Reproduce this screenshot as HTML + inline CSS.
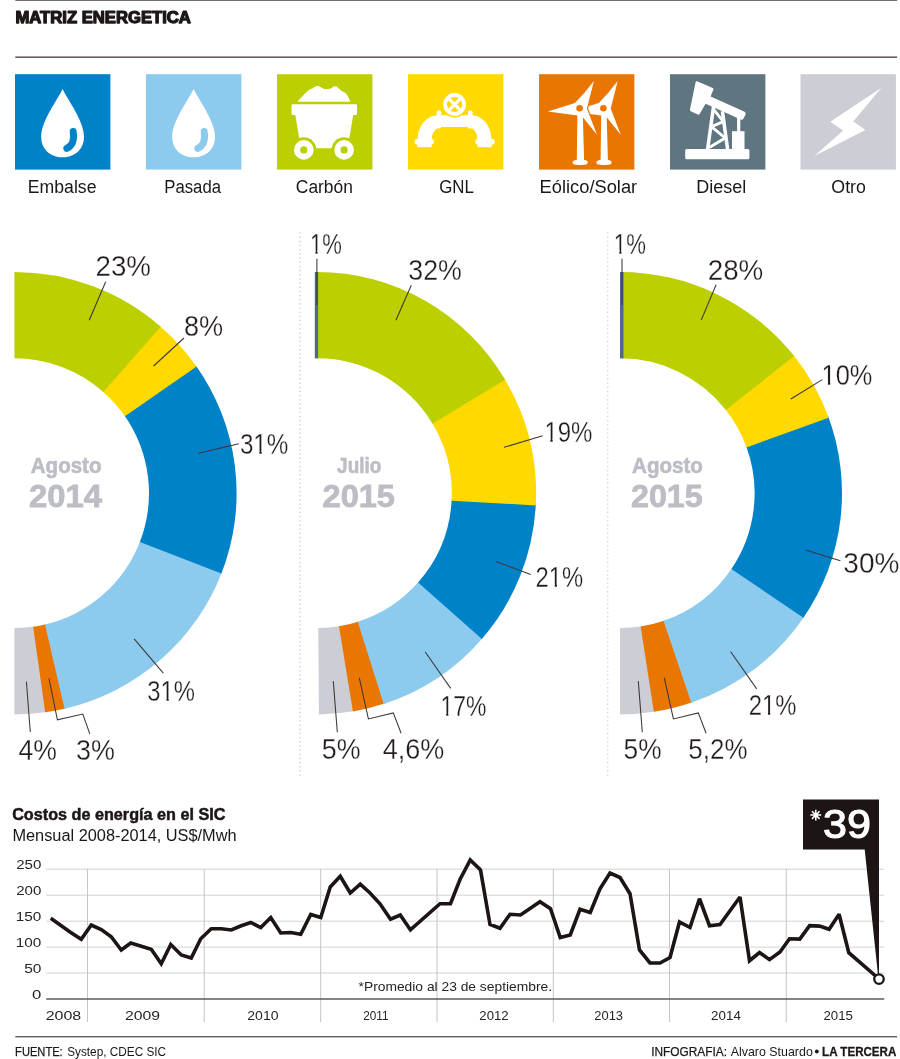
<!DOCTYPE html>
<html><head><meta charset="utf-8"><title>Matriz energetica</title>
<style>
html,body{margin:0;padding:0;background:#fff;}
body{width:900px;height:1059px;overflow:hidden;font-family:"Liberation Sans",sans-serif;}
svg{display:block;will-change:transform;}
text{font-family:"Liberation Sans",sans-serif;}
.ld{stroke:#3d3636;stroke-width:1.05;fill:none;}
.thin{stroke:#fff;stroke-width:0.3;}
</style></head><body>
<svg width="900" height="1059" viewBox="0 0 900 1059">
<rect width="900" height="1059" fill="#fff"/>

<rect x="15.3" y="0" width="881.8" height="0.9" fill="#655e5e"/>
<rect x="15.3" y="56.4" width="881.8" height="1.6" fill="#655e5e"/>
<text x="15.48" y="23.10" font-size="16.4" font-weight="bold" fill="#1d1616" textLength="175.37" lengthAdjust="spacingAndGlyphs" stroke="#1d1616" stroke-width="1.25" stroke-linejoin="round">MATRIZ ENERGETICA</text>
<rect x="15" y="74.2" width="95.4" height="95.4" fill="#0082c9"/>
<rect x="146" y="74.2" width="95.4" height="95.4" fill="#8ccbee"/>
<rect x="277" y="74.2" width="95.4" height="95.4" fill="#bccf00"/>
<rect x="408" y="74.2" width="95.4" height="95.4" fill="#ffd900"/>
<rect x="539" y="74.2" width="95.4" height="95.4" fill="#ea7602"/>
<rect x="670" y="74.2" width="95.4" height="95.4" fill="#5f7681"/>
<rect x="800.5" y="74.2" width="95.4" height="95.4" fill="#cdced5"/>
<g transform="translate(15,74.2)"><path d="M47.6,14.8 C53,26 69,47 69,62.5 C69,75 60,83 47.6,83 C35.2,83 26.2,75 26.2,62.5 C26.2,47 42.2,26 47.6,14.8 Z" fill="#fff"/><path d="M58.2,57.2 C59.5,66 57.5,71.5 51.8,74.2" fill="none" stroke="#0082c9" stroke-width="6.9" stroke-linecap="round"/></g>
<g transform="translate(146,74.2)"><path d="M47.6,14.8 C53,26 69,47 69,62.5 C69,75 60,83 47.6,83 C35.2,83 26.2,75 26.2,62.5 C26.2,47 42.2,26 47.6,14.8 Z" fill="#fff"/><path d="M58.2,57.2 C59.5,66 57.5,71.5 51.8,74.2" fill="none" stroke="#8ccbee" stroke-width="6.9" stroke-linecap="round"/></g>
<g transform="translate(277,74.2)" fill="#fff">
<path d="M21.2,27 L30.5,17.4 Q32.5,15.4 35.3,14.8 Q38.5,11.6 41.8,12.4 Q45,14.6 47.6,15.4 Q50.5,15.6 53.7,14.8 Q57,11.8 59.4,12.7 Q62.5,15.6 64.7,17.2 Q68,18.4 69.6,20.6 L72.8,27 Z" stroke="#fff" stroke-width="1" stroke-linejoin="round"/>
<rect x="14.6" y="30.1" width="65.4" height="10.6" rx="1.2"/>
<path d="M18.2,40 L76.3,40 L70.6,74 L23.9,74 Z"/>
<circle cx="26.8" cy="75.7" r="12.6" fill="#bccf00"/>
<circle cx="67.1" cy="75.7" r="12.6" fill="#bccf00"/>
<circle cx="26.8" cy="75.7" r="9.8"/>
<circle cx="67.1" cy="75.7" r="9.8"/>
<circle cx="26.8" cy="75.7" r="3.6" fill="#bccf00"/>
<circle cx="67.1" cy="75.7" r="3.6" fill="#bccf00"/>
</g>
<g transform="translate(408,74.2)" fill="#fff">
<path d="M30.5,41 C18,41 9.7,52 9.7,66 L23.7,66 C23.7,58 28,52.7 34,52.7 L59.2,52.7 C65.2,52.7 69.5,58 69.5,66 L83.5,66 C83.5,52 75.2,41 62.7,41 Z"/>
<rect x="28.6" y="36.4" width="4.6" height="18" rx="1.6"/>
<rect x="60" y="36.4" width="4.6" height="18" rx="1.6"/>
<rect x="6.6" y="64.8" width="19.2" height="5.6" rx="2"/>
<rect x="9.4" y="69.5" width="14.3" height="3.5"/>
<rect x="67.4" y="64.8" width="19.2" height="5.6" rx="2"/>
<rect x="69.5" y="69.5" width="14.3" height="3.5"/>
<circle cx="46.6" cy="30.3" r="13" fill="#ffd900"/>
<circle cx="46.6" cy="30.3" r="9.5" fill="none" stroke="#fff" stroke-width="3.8"/>
<path d="M40.2,23.9 L53,36.7 M53,23.9 L40.2,36.7" stroke="#fff" stroke-width="3.1" fill="none"/>
</g>
<g transform="translate(539,74.2)"><g transform="translate(23.8,0)"><path d="M54.9,6.8 L47.9,34.3 L58,60.6 L43.9,43 L45.1,85.7 C48,85.9 48.8,87 48.8,88.3 C48.8,90 47,90.8 41.2,90.8 C35.4,90.8 33.5,90 33.5,88.3 C33.5,87 34.4,85.9 37.8,85.7 L38.4,41.2 L8.8,37.4 L36,28.8 Q45.4,19.4 54.9,6.8 Z" fill="#fff"/><circle cx="40.6" cy="34.1" r="3.3" fill="#ea7602"/></g><path transform="translate(0,0)" d="M54.9,6.8 L47.9,34.3 L58,60.6 L43.9,43 L45.1,85.7 C48,85.9 48.8,87 48.8,88.3 C48.8,90 47,90.8 41.2,90.8 C35.4,90.8 33.5,90 33.5,88.3 C33.5,87 34.4,85.9 37.8,85.7 L38.4,41.2 L8.8,37.4 L36,28.8 Q45.4,19.4 54.9,6.8 Z" fill="#ea7602" stroke="#ea7602" stroke-width="2.4" stroke-linejoin="round"/><g transform="translate(0,0)"><path d="M54.9,6.8 L47.9,34.3 L58,60.6 L43.9,43 L45.1,85.7 C48,85.9 48.8,87 48.8,88.3 C48.8,90 47,90.8 41.2,90.8 C35.4,90.8 33.5,90 33.5,88.3 C33.5,87 34.4,85.9 37.8,85.7 L38.4,41.2 L8.8,37.4 L36,28.8 Q45.4,19.4 54.9,6.8 Z" fill="#fff"/><circle cx="40.6" cy="34.1" r="3.3" fill="#ea7602"/></g></g>
<g transform="translate(670,74.2)" fill="#fff" stroke="none">
<rect x="15.2" y="74.7" width="64.2" height="10.4" rx="1.5"/>
<path d="M27.6,7.2 L42.8,13.8 Q43.8,14.4 43.4,15.4 L40.6,22.3 L74.6,37.6 Q76.2,38.6 75.6,40.2 L73.4,44.6 Q72.4,46 70.8,45.4 L35.6,29.6 L29.6,39.8 Q28.8,40.8 27.6,40.3 L20.8,37 Q19.6,36.2 20,35 L25.6,8 Q26.2,6.6 27.6,7.2 Z"/>
<rect x="67.1" y="43" width="3.2" height="15"/>
<rect x="62" y="57" width="12.5" height="18"/>
<g stroke="#fff" stroke-width="3.5" fill="none" stroke-linejoin="miter">
<path d="M43.6,32 L37.6,75"/>
<path d="M52.4,37 L57.6,75"/>
<path d="M43.4,35 L53.4,47.4 L41.4,52.4 L55.2,63.8 L39.2,73.4" stroke-width="2.9"/>
</g>
</g>
<g transform="translate(800.5,74.2)"><path d="M80.9,13.6 L52.8,47.4 L64.9,55.7 L13.9,81.8 L42.7,56.3 L29.8,47.5 Z" fill="#fff"/></g>
<text x="27.85" y="192.60" font-size="17.6" fill="#1d1616" textLength="68.62" lengthAdjust="spacingAndGlyphs">Embalse</text>
<text x="164.32" y="192.60" font-size="17.6" fill="#1d1616" textLength="56.71" lengthAdjust="spacingAndGlyphs">Pasada</text>
<text x="295.83" y="192.60" font-size="17.6" fill="#1d1616" textLength="57.04" lengthAdjust="spacingAndGlyphs">Carbón</text>
<text x="439.16" y="192.60" font-size="17.6" fill="#1d1616" textLength="34.71" lengthAdjust="spacingAndGlyphs">GNL</text>
<text x="539.59" y="192.60" font-size="17.6" fill="#1d1616" textLength="97.60" lengthAdjust="spacingAndGlyphs">Eólico/Solar</text>
<text x="696.32" y="192.60" font-size="17.6" fill="#1d1616" textLength="49.87" lengthAdjust="spacingAndGlyphs">Diesel</text>
<text x="831.36" y="192.60" font-size="17.6" fill="#1d1616" textLength="34.49" lengthAdjust="spacingAndGlyphs">Otro</text>
<line x1="300" y1="233" x2="300" y2="776" stroke="#d4d4d8" stroke-width="1.7" stroke-dasharray="0.01,4.16" stroke-linecap="round"/>
<line x1="607.7" y1="233" x2="607.7" y2="776" stroke="#dcdce0" stroke-width="1.7" stroke-dasharray="0.01,4.16" stroke-linecap="round"/>
<path d="M47.10,711.99 A222.2,221.2 0 0 1 14.40,714.40 L14.40,628.05 A134.6,134.85 0 0 0 34.33,626.56 Z" fill="#cdced5"/>
<path d="M66.43,708.25 A222.2,221.2 0 0 1 45.19,712.27 L33.17,626.73 A134.6,134.85 0 0 0 46.11,624.26 Z" fill="#ea7602"/>
<path d="M222.14,571.70 A222.2,221.2 0 0 1 64.55,708.69 L44.96,624.53 A134.6,134.85 0 0 0 140.34,540.79 Z" fill="#8ccbee"/>
<path d="M195.47,364.99 A222.2,221.2 0 0 1 221.44,573.51 L139.92,541.89 A134.6,134.85 0 0 0 124.32,415.37 Z" fill="#0082c9"/>
<path d="M159.21,325.43 A222.2,221.2 0 0 1 196.59,366.57 L124.99,416.34 A134.6,134.85 0 0 0 102.44,391.20 Z" fill="#ffd900"/>
<path d="M14.40,272.00 A222.2,221.2 0 0 1 160.68,326.69 L103.33,391.97 A134.6,134.85 0 0 0 14.40,358.35 Z" fill="#bccf00"/>
<path d="M354.84,711.11 A218.9,221.2 0 0 1 318.94,714.39 L318.26,628.05 A134.6,134.85 0 0 0 340.15,626.08 Z" fill="#cdced5"/>
<path d="M385.49,703.36 A218.9,221.2 0 0 1 352.94,711.43 L338.99,626.27 A134.6,134.85 0 0 0 358.86,621.43 Z" fill="#ea7602"/>
<path d="M483.15,637.45 A218.9,221.2 0 0 1 383.65,703.96 L357.74,621.79 A134.6,134.85 0 0 0 418.86,581.58 Z" fill="#8ccbee"/>
<path d="M535.86,503.51 A218.9,221.2 0 0 1 481.90,638.91 L418.09,582.46 A134.6,134.85 0 0 0 451.65,499.54 Z" fill="#0082c9"/>
<path d="M504.17,378.17 A218.9,221.2 0 0 1 535.77,505.42 L451.59,500.71 A134.6,134.85 0 0 0 431.90,422.64 Z" fill="#ffd900"/>
<path d="M317.20,272.00 A218.9,221.2 0 0 1 505.16,379.82 L432.51,423.64 A134.6,134.85 0 0 0 317.20,358.35 Z" fill="#bccf00"/>
<rect x="314.8" y="272" width="3.3" height="86.4" fill="#4d6b88"/>
<path d="M655.75,711.51 A222,221.2 0 0 1 620.00,714.40 L620.00,628.05 A134.6,134.85 0 0 0 641.79,626.27 Z" fill="#cdced5"/>
<path d="M693.14,702.05 A222,221.2 0 0 1 653.84,711.81 L640.63,626.46 A134.6,134.85 0 0 0 664.56,620.45 Z" fill="#ea7602"/>
<path d="M804.49,616.24 A222,221.2 0 0 1 691.31,702.68 L663.45,620.83 A134.6,134.85 0 0 0 732.04,567.92 Z" fill="#8ccbee"/>
<path d="M827.99,415.85 A222,221.2 0 0 1 803.40,617.84 L731.39,568.90 A134.6,134.85 0 0 0 746.19,446.27 Z" fill="#0082c9"/>
<path d="M793.01,354.59 A222,221.2 0 0 1 828.66,417.67 L746.59,447.38 A134.6,134.85 0 0 0 725.12,408.98 Z" fill="#ffd900"/>
<path d="M620.00,272.00 A222,221.2 0 0 1 794.22,356.10 L725.85,409.90 A134.6,134.85 0 0 0 620.00,358.35 Z" fill="#bccf00"/>
<rect x="620" y="272" width="3.5" height="86.4" fill="#4d6b88"/>
<text x="95.51" y="276.10" font-size="30" fill="#231b1b" textLength="55.50" lengthAdjust="spacingAndGlyphs" class="thin">23%</text>
<path class="ld" d="M105.7,281.7 L89.2,320.2"/>
<text x="184.05" y="336.30" font-size="30" fill="#231b1b" textLength="39.18" lengthAdjust="spacingAndGlyphs" class="thin">8%</text>
<path class="ld" d="M184.0,338.0 L153.6,366.0"/>
<text x="239.89" y="454.20" font-size="30" fill="#231b1b" textLength="48.49" lengthAdjust="spacingAndGlyphs" class="thin">31%</text>
<rect x="254.09" y="451.05" width="5.29" height="4.15" fill="#fff"/>
<rect x="261.70" y="451.05" width="4.36" height="4.15" fill="#fff"/>
<path class="ld" d="M238.8,443.7 L198.3,453.3"/>
<text x="147.31" y="700.90" font-size="30" fill="#231b1b" textLength="47.66" lengthAdjust="spacingAndGlyphs" class="thin">31%</text>
<rect x="161.27" y="697.75" width="5.20" height="4.15" fill="#fff"/>
<rect x="168.75" y="697.75" width="4.29" height="4.15" fill="#fff"/>
<path class="ld" d="M134.2,638.9 L163.3,673.2"/>
<text x="18.50" y="759.50" font-size="30" fill="#231b1b" textLength="38.51" lengthAdjust="spacingAndGlyphs" class="thin">4%</text>
<path class="ld" d="M26.4,681.8 L30.3,732.0"/>
<text x="75.99" y="759.50" font-size="30" fill="#231b1b" textLength="38.93" lengthAdjust="spacingAndGlyphs" class="thin">3%</text>
<path class="ld" d="M49.0,678.5 L57.4,719.8 L82.8,714.0 L89.8,733.8"/>
<text x="309.95" y="253.50" font-size="30" fill="#231b1b" textLength="31.89" lengthAdjust="spacingAndGlyphs" class="thin">1%</text>
<rect x="310.61" y="250.35" width="4.81" height="4.15" fill="#fff"/>
<rect x="317.55" y="250.35" width="3.97" height="4.15" fill="#fff"/>
<path class="ld" d="M316.9,258.7 L316.9,305.0"/>
<text x="408.30" y="279.90" font-size="30" fill="#231b1b" textLength="53.58" lengthAdjust="spacingAndGlyphs" class="thin">32%</text>
<path class="ld" d="M411.3,285.3 L395.9,320.3"/>
<text x="544.40" y="441.90" font-size="30" fill="#231b1b" textLength="48.08" lengthAdjust="spacingAndGlyphs" class="thin">19%</text>
<rect x="545.12" y="438.75" width="5.24" height="4.15" fill="#fff"/>
<rect x="552.67" y="438.75" width="4.32" height="4.15" fill="#fff"/>
<path class="ld" d="M542.7,435.7 L504.0,447.3"/>
<text x="535.51" y="587.20" font-size="30" fill="#231b1b" textLength="47.66" lengthAdjust="spacingAndGlyphs" class="thin">21%</text>
<rect x="549.47" y="584.05" width="5.20" height="4.15" fill="#fff"/>
<rect x="556.95" y="584.05" width="4.29" height="4.15" fill="#fff"/>
<path class="ld" d="M496.0,561.6 L530.7,574.4"/>
<text x="440.48" y="715.60" font-size="30" fill="#231b1b" textLength="45.96" lengthAdjust="spacingAndGlyphs" class="thin">17%</text>
<rect x="441.17" y="712.45" width="5.01" height="4.15" fill="#fff"/>
<rect x="448.39" y="712.45" width="4.13" height="4.15" fill="#fff"/>
<path class="ld" d="M425.1,651.8 L450.7,688.4"/>
<text x="321.83" y="759.40" font-size="30" fill="#231b1b" textLength="38.79" lengthAdjust="spacingAndGlyphs" class="thin">5%</text>
<path class="ld" d="M333.3,681.1 L337.3,732.2"/>
<text x="382.69" y="759.40" font-size="30" fill="#231b1b" textLength="61.60" lengthAdjust="spacingAndGlyphs" class="thin">4,6%</text>
<path class="ld" d="M359.3,677.8 L368.4,718.9 L393.3,712.9 L401.1,733.3"/>
<text x="613.84" y="253.50" font-size="30" fill="#231b1b" textLength="32.00" lengthAdjust="spacingAndGlyphs" class="thin">1%</text>
<rect x="614.50" y="250.35" width="4.83" height="4.15" fill="#fff"/>
<rect x="621.47" y="250.35" width="3.98" height="4.15" fill="#fff"/>
<path class="ld" d="M622.0,258.7 L622.0,305.0"/>
<text x="707.71" y="280.00" font-size="30" fill="#231b1b" textLength="55.60" lengthAdjust="spacingAndGlyphs" class="thin">28%</text>
<path class="ld" d="M716.1,284.7 L701.2,320.1"/>
<text x="821.60" y="384.60" font-size="30" fill="#231b1b" textLength="50.83" lengthAdjust="spacingAndGlyphs" class="thin">10%</text>
<rect x="822.36" y="381.45" width="5.55" height="4.15" fill="#fff"/>
<rect x="830.33" y="381.45" width="4.57" height="4.15" fill="#fff"/>
<path class="ld" d="M822.3,379.6 L790.8,399.0"/>
<text x="843.35" y="573.00" font-size="30" fill="#231b1b" textLength="56.07" lengthAdjust="spacingAndGlyphs" class="thin">30%</text>
<path class="ld" d="M805.6,550.0 L840.4,560.7"/>
<text x="748.81" y="715.20" font-size="30" fill="#231b1b" textLength="47.66" lengthAdjust="spacingAndGlyphs" class="thin">21%</text>
<rect x="762.77" y="712.05" width="5.20" height="4.15" fill="#fff"/>
<rect x="770.25" y="712.05" width="4.29" height="4.15" fill="#fff"/>
<path class="ld" d="M730.7,651.8 L756.7,688.9"/>
<text x="623.55" y="759.40" font-size="30" fill="#231b1b" textLength="38.05" lengthAdjust="spacingAndGlyphs" class="thin">5%</text>
<path class="ld" d="M638.3,681.1 L642.3,732.2"/>
<text x="688.36" y="759.40" font-size="30" fill="#231b1b" textLength="59.20" lengthAdjust="spacingAndGlyphs" class="thin">5,2%</text>
<path class="ld" d="M664.3,677.8 L673.4,718.9 L698.3,712.9 L706.1,733.3"/>
<text x="30.79" y="472.80" font-size="21.3" font-weight="bold" fill="#bcbdc5" textLength="70.71" lengthAdjust="spacingAndGlyphs" stroke="#bcbdc5" stroke-width="0.6">Agosto</text>
<text x="29.05" y="507.40" font-size="32" font-weight="bold" fill="#bcbdc5" textLength="72.98" lengthAdjust="spacingAndGlyphs" stroke="#bcbdc5" stroke-width="0.8">2014</text>
<text x="337.12" y="472.80" font-size="21.3" font-weight="bold" fill="#bcbdc5" textLength="44.22" lengthAdjust="spacingAndGlyphs" stroke="#bcbdc5" stroke-width="0.6">Julio</text>
<text x="322.56" y="507.40" font-size="32" font-weight="bold" fill="#bcbdc5" textLength="72.41" lengthAdjust="spacingAndGlyphs" stroke="#bcbdc5" stroke-width="0.8">2015</text>
<text x="632.09" y="472.80" font-size="21.3" font-weight="bold" fill="#bcbdc5" textLength="70.71" lengthAdjust="spacingAndGlyphs" stroke="#bcbdc5" stroke-width="0.6">Agosto</text>
<text x="630.97" y="507.40" font-size="32" font-weight="bold" fill="#bcbdc5" textLength="71.79" lengthAdjust="spacingAndGlyphs" stroke="#bcbdc5" stroke-width="0.8">2015</text>
<text x="12.15" y="819.70" font-size="16.8" font-weight="bold" fill="#1d1616" textLength="213.31" lengthAdjust="spacingAndGlyphs" stroke="#1d1616" stroke-width="0.5">Costos de energía en el SIC</text>
<text x="12.45" y="840.60" font-size="16" fill="#1d1616" textLength="224.11" lengthAdjust="spacingAndGlyphs">Mensual 2008-2014, US$/Mwh</text>
<line x1="46.2" y1="869.2" x2="884.2" y2="869.2" stroke="#d3d3d8" stroke-width="1"/>
<line x1="46.2" y1="895.2" x2="884.2" y2="895.2" stroke="#d3d3d8" stroke-width="1"/>
<line x1="46.2" y1="921.2" x2="884.2" y2="921.2" stroke="#d3d3d8" stroke-width="1"/>
<line x1="46.2" y1="947.1" x2="884.2" y2="947.1" stroke="#d3d3d8" stroke-width="1"/>
<line x1="46.2" y1="973" x2="884.2" y2="973" stroke="#d3d3d8" stroke-width="1"/>
<line x1="87.5" y1="869" x2="87.5" y2="1022" stroke="#c4c4c9" stroke-width="1"/>
<line x1="204.2" y1="869" x2="204.2" y2="1022" stroke="#c4c4c9" stroke-width="1"/>
<line x1="320.7" y1="869" x2="320.7" y2="1022" stroke="#c4c4c9" stroke-width="1"/>
<line x1="437" y1="869" x2="437" y2="1022" stroke="#c4c4c9" stroke-width="1"/>
<line x1="553.3" y1="869" x2="553.3" y2="1022" stroke="#c4c4c9" stroke-width="1"/>
<line x1="669.5" y1="869" x2="669.5" y2="1022" stroke="#c4c4c9" stroke-width="1"/>
<line x1="786.3" y1="869" x2="786.3" y2="1022" stroke="#c4c4c9" stroke-width="1"/>
<line x1="46.2" y1="999" x2="884.2" y2="999" stroke="#615b5b" stroke-width="1.3"/>
<text x="16.25" y="869.30" font-size="12.8" fill="#2a2323" textLength="25.13" lengthAdjust="spacingAndGlyphs">250</text>
<text x="16.25" y="895.30" font-size="12.8" fill="#2a2323" textLength="25.13" lengthAdjust="spacingAndGlyphs">200</text>
<text x="15.85" y="921.30" font-size="12.8" fill="#2a2323" textLength="25.54" lengthAdjust="spacingAndGlyphs">150</text>
<text x="15.85" y="947.20" font-size="12.8" fill="#2a2323" textLength="25.54" lengthAdjust="spacingAndGlyphs">100</text>
<text x="24.18" y="973.10" font-size="12.8" fill="#2a2323" textLength="17.24" lengthAdjust="spacingAndGlyphs">50</text>
<text x="32.13" y="999.10" font-size="12.8" fill="#2a2323" textLength="9.32" lengthAdjust="spacingAndGlyphs">0</text>
<text x="45.70" y="1020.40" font-size="13.3" fill="#2a2323" textLength="35.51" lengthAdjust="spacingAndGlyphs">2008</text>
<text x="125.01" y="1020.40" font-size="13.3" fill="#2a2323" textLength="35.03" lengthAdjust="spacingAndGlyphs">2009</text>
<text x="247.30" y="1020.40" font-size="13.3" fill="#2a2323" textLength="31.26" lengthAdjust="spacingAndGlyphs">2010</text>
<text x="363.21" y="1020.40" font-size="13.3" fill="#2a2323" textLength="25.36" lengthAdjust="spacingAndGlyphs">2011</text>
<text x="479.34" y="1020.40" font-size="13.3" fill="#2a2323" textLength="29.35" lengthAdjust="spacingAndGlyphs">2012</text>
<text x="594.35" y="1020.40" font-size="13.3" fill="#2a2323" textLength="28.72" lengthAdjust="spacingAndGlyphs">2013</text>
<text x="711.13" y="1020.40" font-size="13.3" fill="#2a2323" textLength="29.77" lengthAdjust="spacingAndGlyphs">2014</text>
<text x="823.44" y="1020.40" font-size="13.3" fill="#2a2323" textLength="29.52" lengthAdjust="spacingAndGlyphs">2015</text>
<text x="358.56" y="990.50" font-size="13.5" fill="#2a2323" textLength="193.50" lengthAdjust="spacingAndGlyphs">*Promedio al 23 de septiembre.</text>
<path d="M50.75,918.25 L70.75,932.50 L81.25,939.25 L91.25,925.00 L101.25,929.50 L111.25,936.75 L121.25,950.00 L130.75,943.00 L141.25,946.25 L151.25,949.25 L161.25,963.75 L170.75,944.50 L181.25,955.00 L191.25,958.00 L200.75,938.75 L211.25,928.75 L221.25,928.75 L231.25,930.00 L241.25,925.75 L250.75,922.50 L260.75,927.50 L270.75,917.50 L280.75,933.00 L290.75,932.50 L300.75,934.25 L310.75,914.50 L320.75,917.50 L330.25,887.00 L340.25,876.25 L350.25,893.00 L360.25,884.25 L370.00,893.00 L380.00,903.75 L390.50,919.25 L400.25,915.00 L410.40,929.80 L440.00,903.75 L450.50,903.75 L460.00,879.50 L470.25,860.00 L480.50,870.00 L490.00,924.50 L500.00,928.25 L510.00,914.25 L520.50,915.00 L540.00,901.75 L550.50,908.75 L560.25,937.50 L570.25,935.00 L580.00,909.25 L590.25,912.50 L600.00,888.75 L610.00,873.00 L620.00,877.50 L630.00,893.75 L639.50,950.00 L650.00,963.00 L660.00,963.00 L670.00,957.50 L679.50,922.00 L690.00,927.50 L699.50,898.75 L709.50,925.75 L720.00,924.50 L740.00,897.00 L749.50,960.75 L759.50,952.50 L769.50,959.60 L780.00,952.00 L789.50,938.80 L799.80,939.10 L809.60,925.60 L819.60,926.10 L829.10,929.30 L839.10,914.20 L848.80,952.70 L878.50,978.50" fill="none" stroke="#fff" stroke-opacity="0.75" stroke-width="5.4" stroke-linejoin="round"/>
<path d="M50.75,918.25 L70.75,932.50 L81.25,939.25 L91.25,925.00 L101.25,929.50 L111.25,936.75 L121.25,950.00 L130.75,943.00 L141.25,946.25 L151.25,949.25 L161.25,963.75 L170.75,944.50 L181.25,955.00 L191.25,958.00 L200.75,938.75 L211.25,928.75 L221.25,928.75 L231.25,930.00 L241.25,925.75 L250.75,922.50 L260.75,927.50 L270.75,917.50 L280.75,933.00 L290.75,932.50 L300.75,934.25 L310.75,914.50 L320.75,917.50 L330.25,887.00 L340.25,876.25 L350.25,893.00 L360.25,884.25 L370.00,893.00 L380.00,903.75 L390.50,919.25 L400.25,915.00 L410.40,929.80 L440.00,903.75 L450.50,903.75 L460.00,879.50 L470.25,860.00 L480.50,870.00 L490.00,924.50 L500.00,928.25 L510.00,914.25 L520.50,915.00 L540.00,901.75 L550.50,908.75 L560.25,937.50 L570.25,935.00 L580.00,909.25 L590.25,912.50 L600.00,888.75 L610.00,873.00 L620.00,877.50 L630.00,893.75 L639.50,950.00 L650.00,963.00 L660.00,963.00 L670.00,957.50 L679.50,922.00 L690.00,927.50 L699.50,898.75 L709.50,925.75 L720.00,924.50 L740.00,897.00 L749.50,960.75 L759.50,952.50 L769.50,959.60 L780.00,952.00 L789.50,938.80 L799.80,939.10 L809.60,925.60 L819.60,926.10 L829.10,929.30 L839.10,914.20 L848.80,952.70 L878.50,978.50" fill="none" stroke="#1d1414" stroke-width="3.6" stroke-linejoin="miter" stroke-miterlimit="2.1"/>
<path d="M803,799.5 L879,799.5 L879,975 L878,975 L864.7,849.6 L803,849.6 Z" fill="#1d1414"/>
<circle cx="879" cy="979.1" r="4.75" fill="#fff" stroke="#1d1414" stroke-width="2.3"/>
<text x="823.08" y="838.30" font-size="40.3" fill="#fff" textLength="47.96" lengthAdjust="spacingAndGlyphs" stroke="#fff" stroke-width="1.1">39</text>
<g stroke="#fff" stroke-width="1.55" fill="none" transform="translate(815.8,815.1)"><path d="M0,-5.4 V5.4 M-5.4,0 H5.4 M-3.8,-3.8 L3.8,3.8 M3.8,-3.8 L-3.8,3.8"/></g>
<rect x="15.3" y="1036" width="881.8" height="1.4" fill="#655e5e"/>
<text x="15.08" y="1056.00" font-size="13.4" fill="#1d1616" textLength="47.63" lengthAdjust="spacingAndGlyphs" stroke="#1d1616" stroke-width="0.25">FUENTE:</text>
<text x="67.17" y="1056.00" font-size="13.4" fill="#1d1616" textLength="98.99" lengthAdjust="spacingAndGlyphs">Systep, CDEC SIC</text>
<text x="651.20" y="1056.00" font-size="13.4" fill="#1d1616" textLength="75.86" lengthAdjust="spacingAndGlyphs" stroke="#1d1616" stroke-width="0.25">INFOGRAFIA:</text>
<text x="730.67" y="1056.00" font-size="13.4" fill="#1d1616" textLength="82.13" lengthAdjust="spacingAndGlyphs">Alvaro Stuardo</text>
<circle cx="816.8" cy="1051.5" r="1.9" fill="#1d1616"/>
<text x="822.12" y="1056.00" font-size="13.4" font-weight="bold" fill="#1d1616" textLength="74.20" lengthAdjust="spacingAndGlyphs" stroke="#1d1616" stroke-width="0.3">LA TERCERA</text>
</svg></body></html>
